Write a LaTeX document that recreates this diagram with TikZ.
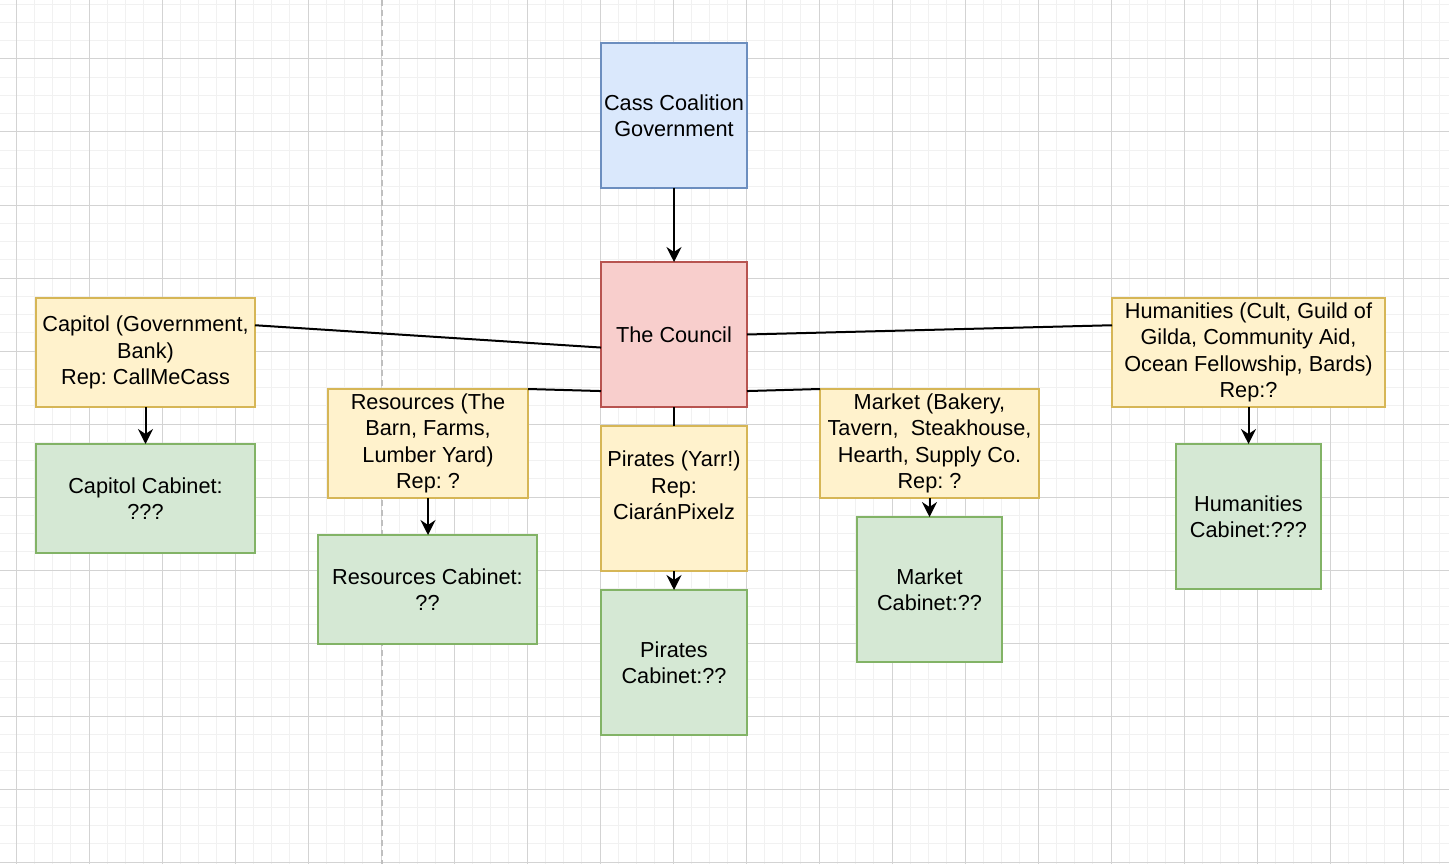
\documentclass[tikz,border=0pt]{standalone}
\usepackage{fontspec}
\setmainfont{Liberation Sans}
\usetikzlibrary{arrows.meta,calc}
\frenchspacing

\definecolor{govfill}{HTML}{DAE8FC}
\definecolor{govline}{HTML}{6C8EBF}
\definecolor{councilfill}{HTML}{F8CECC}
\definecolor{councilline}{HTML}{B85450}
\definecolor{groupfill}{HTML}{FFF2CC}
\definecolor{groupline}{HTML}{D6B656}
\definecolor{cabfill}{HTML}{D5E8D4}
\definecolor{cabline}{HTML}{82B366}
\definecolor{minorcol}{HTML}{F1F1F1}
\definecolor{majorcol}{HTML}{D3D3D3}

\tikzset{
  box/.style={draw, line width=1.4pt, inner sep=0pt, outer sep=0pt, align=center,
    font=\fontsize{21.7}{26.3}\selectfont},
  gov/.style={box, fill=govfill, draw=govline},
  council/.style={box, fill=councilfill, draw=councilline},
  group/.style={box, fill=groupfill, draw=groupline},
  cabinet/.style={box, fill=cabfill, draw=cabline},
  minorgrid/.style={draw=minorcol, line width=1pt},
  majorgrid/.style={draw=majorcol, line width=1pt},
  link/.style={line width=2pt}
}

\begin{document}
\begin{tikzpicture}[x=1pt,y=-1pt,>={Stealth[length=15pt,width=15pt,inset=5pt]}]
\useasboundingbox[fill=white] (0,0) rectangle (1449,864);
% background grid
\foreach \i in {-1,...,79} {
  \draw[minorgrid] ({16+18.25*\i},0) -- ({16+18.25*\i},864);
}
\foreach \j in {-4,...,44} {
  \draw[minorgrid] (0,{59+18.25*\j}) -- (1449,{59+18.25*\j});
}
\foreach \i in {0,...,19} {
  \draw[majorgrid] ({16+73*\i},0) -- ({16+73*\i},864);
}
\foreach \j in {-1,...,11} {
  \draw[majorgrid] (0,{59+73*\j}) -- (1449,{59+73*\j});
}
\draw[draw=black!25, line width=1.5pt, dash pattern=on 6pt off 4pt] (382,0) -- (382,864);

% top
\node[gov, minimum width=146pt, minimum height=145pt] (cass) at (674,115.5) {Cass Coalition\\Government};
\node[council, minimum width=146pt, minimum height=145pt] (council) at (674,334.5) {The Council};

% groups
\node[group, minimum width=219pt, minimum height=109pt] (capitol) at (145.5,352.5)
  {Capitol (Government,\\Bank)\\Rep: CallMeCass};
\node[group, minimum width=200pt, minimum height=109pt] (resources) at (428,443.5)
  {Resources (The\\Barn, Farms,\\Lumber Yard)\\Rep: ?};
\node[group, minimum width=146pt, minimum height=145pt] (pirates) at (674,498.5)
  {Pirates (Yarr!)\\Rep:\\CiaránPixelz\\\mbox{}};
\node[group, minimum width=219pt, minimum height=109pt] (market) at (929.5,443.5)
  {Market (Bakery,\\Tavern,\ \ Steakhouse,\\Hearth, Supply Co.\\Rep: ?};
\node[group, minimum width=273pt, minimum height=109pt] (humanities) at (1248.5,352.5)
  {Humanities (Cult, Guild of\\Gilda, Community Aid,\\Ocean Fellowship, Bards)\\Rep:?};

% cabinets
\node[cabinet, minimum width=219pt, minimum height=109pt] (capitolcab) at (145.5,498.5)
  {Capitol Cabinet:\\???};
\node[cabinet, minimum width=219pt, minimum height=109pt] (resourcescab) at (427.5,589.5)
  {Resources Cabinet:\\??};
\node[cabinet, minimum width=146pt, minimum height=145pt] (piratescab) at (674,662.5)
  {Pirates\\Cabinet:??};
\node[cabinet, minimum width=145pt, minimum height=145pt] (marketcab) at (929.5,589.5)
  {Market\\Cabinet:??};
\node[cabinet, minimum width=145pt, minimum height=145pt] (humanitiescab) at (1248.5,516.5)
  {Humanities\\Cabinet:???};

% links
\draw[link,->] (cass) -- (council);
\draw[link] ($(council.north west)!0.59!(council.south west)$) -- ($(capitol.north east)!0.25!(capitol.south east)$);
\draw[link] ($(council.north west)!0.89!(council.south west)$) -- (resources.north east);
\draw[link] (council) -- (pirates);
\draw[link] ($(council.north east)!0.89!(council.south east)$) -- (market.north west);
\draw[link] (council.east) -- ($(humanities.north west)!0.25!(humanities.south west)$);

\draw[link,->] (capitol) -- (capitolcab);
\draw[link,->] (resources.south) -- (resources.south |- resourcescab.north);
\draw[link,->] (pirates) -- (piratescab);
\draw[link,->] (market) -- (marketcab);
\draw[link,->] (humanities) -- (humanitiescab);
\end{tikzpicture}
\end{document}
